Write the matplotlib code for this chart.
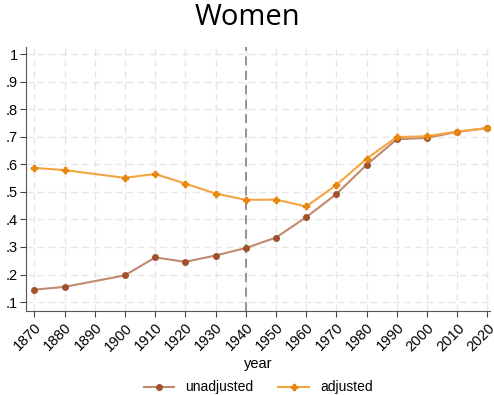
import matplotlib
matplotlib.use("Agg")
import matplotlib.pyplot as plt

plt.rcParams['font.family'] = ['Liberation Sans', 'DejaVu Sans']

years = [1870, 1880, 1900, 1910, 1920, 1930, 1940, 1950, 1960, 1970, 1980, 1990, 2000, 2010, 2020]
unadjusted = [0.145, 0.155, 0.197, 0.262, 0.246, 0.269, 0.296, 0.334, 0.408, 0.492, 0.598, 0.691, 0.696, 0.718, 0.731]
adjusted = [0.587, 0.579, 0.551, 0.565, 0.530, 0.494, 0.471, 0.472, 0.447, 0.525, 0.620, 0.699, 0.702, 0.719, 0.732]

xticks = list(range(1870, 2021, 10))
yticks = [0.1, 0.2, 0.3, 0.4, 0.5, 0.6, 0.7, 0.8, 0.9, 1.0]
ytick_labels = [".1", ".2", ".3", ".4", ".5", ".6", ".7", ".8", ".9", "1"]

fig = plt.figure(figsize=(4.94, 3.95), dpi=100)
ax = fig.add_axes([0.053, 0.213, 0.939, 0.668])

ax.plot(years, unadjusted, color="#c08a6e", lw=1.5, marker="o", ms=4,
        mfc="#a0522d", mec="#a0522d", label="unadjusted")
ax.plot(years, adjusted, color="#f2a540", lw=1.5, marker="P", ms=4,
        mfc="#e8870e", mec="#e8870e", label="adjusted")

ax.axvline(1940, color="#8c8c8c", lw=1.3, ls=(0, (5, 3)), zorder=1.5)

ax.set_xlim(1867.3, 2020.9)
ax.set_ylim(0.068, 1.026)
ax.set_xticks(xticks)
ax.set_xticklabels([str(x) for x in xticks], rotation=45, ha="right",
                   rotation_mode="anchor", fontsize=10.5)
ax.set_yticks(yticks)
ax.set_yticklabels(ytick_labels, fontsize=10.5)
ax.tick_params(axis="x", length=4, color="#444444", pad=3)
ax.tick_params(axis="y", length=4, color="#444444", pad=2)

ax.grid(True, color="#e6e6e6", ls=(0, (5, 3)), lw=1)
ax.set_axisbelow(True)
for s in ["top", "right"]:
    ax.spines[s].set_visible(False)
for s in ["left", "bottom"]:
    ax.spines[s].set_color("#555555")

ax.set_xlabel("year", fontsize=10.5, labelpad=2)
fig.text(0.5, 0.955, "Women", ha="center", va="center", fontsize=21,
         family=["Open Sans", "DejaVu Sans"])

ax.legend(loc="center", bbox_to_anchor=(0.5, -0.29), ncol=2,
          frameon=False, fontsize=10, handlelength=2.2, columnspacing=1.8,
          handletextpad=0.8)

fig.savefig("out.png", dpi=100)
